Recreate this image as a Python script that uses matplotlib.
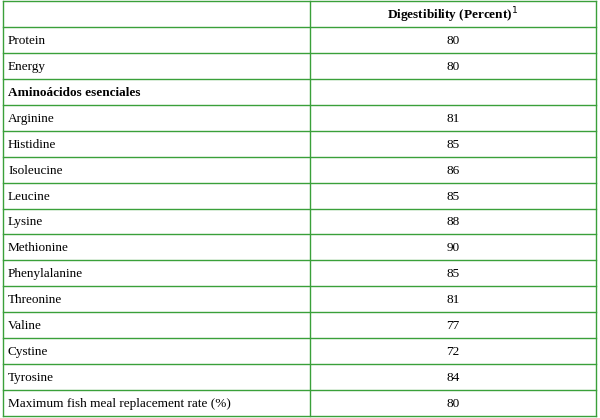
import matplotlib.pyplot as plt

row_labels = ["Protein", "Energy", "Aminoácidos esenciales", "Arginine", "Histidine",
              "Isoleucine", "Leucine", "Lysine", "Methionine", "Phenylalanine",
              "Threonine", "Valine", "Cystine", "Tyrosine",
              "Maximum fish meal replacement rate (%)"]
values = ["80", "80", "", "81", "85", "86", "85", "88", "90", "85", "81", "77", "72", "84", "80"]
bold_rows = {"Aminoácidos esenciales"}
header = "Digestibility (Percent)"

W, H = 600, 418
x0, xm, x1 = 3, 310, 596
y0, y1 = 1, 416
n = len(row_labels) + 1
rh = (y1 - y0) / n
green = "#3aa03a"

fig = plt.figure(figsize=(6, 4.18), dpi=100)
ax = fig.add_axes([0, 0, 1, 1])
ax.set_xlim(0, W)
ax.set_ylim(H, 0)
ax.axis("off")
plt.rcParams["font.family"] = "Liberation Serif"

for i in range(n + 1):
    y = y0 + i * rh
    ax.plot([x0, x1], [y, y], color=green, lw=1)
for x in (x0, xm, x1):
    ax.plot([x, x], [y0, y1], color=green, lw=1)

ax.text((xm + x1) / 2, y0 + rh / 2 + 1, header + r"$^{1}$", ha="center", va="center",
        fontsize=9.5, fontweight="bold", family="Liberation Serif")
for i, (lab, val) in enumerate(zip(row_labels, values)):
    yc = y0 + (i + 1.5) * rh + 1
    ax.text(x0 + 5, yc, lab, ha="left", va="center", fontsize=9.5,
            fontweight="bold" if lab in bold_rows else "normal", family="Liberation Serif")
    ax.text((xm + x1) / 2, yc, val, ha="center", va="center", fontsize=9.5,
            family="Liberation Serif")

fig.savefig("out.png", dpi=100)
